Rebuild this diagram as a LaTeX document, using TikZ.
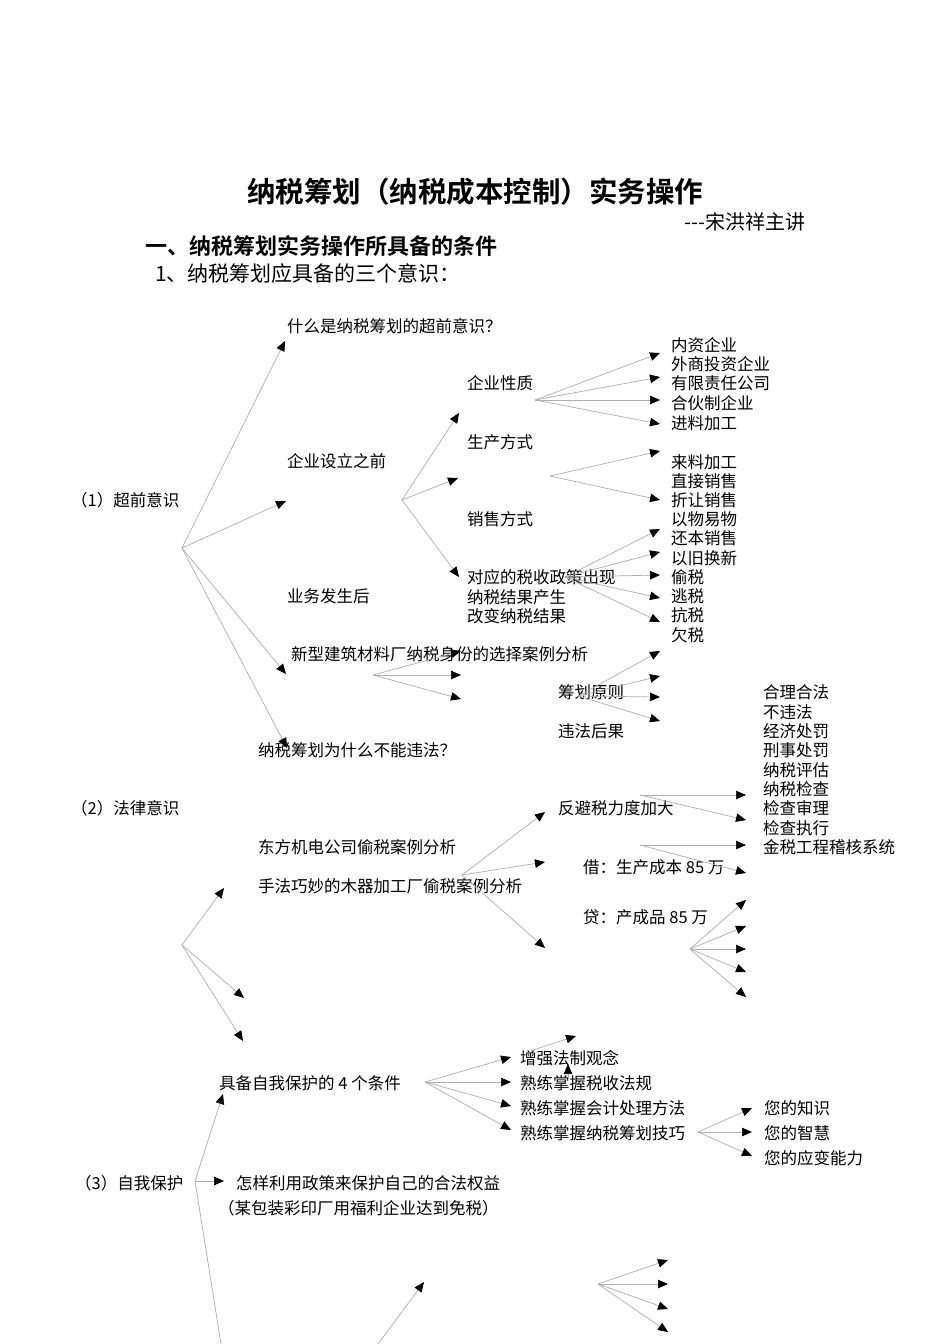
\documentclass[tikz,border=0pt]{standalone}
\usepackage{fontspec}
\usetikzlibrary{arrows.meta}
\newfontfamily\cjk{Noto Sans CJK SC}
\newfontfamily\cjkb{Noto Sans CJK SC Bold}
\definecolor{linegrey}{RGB}{175,175,175}
\newcommand\bodyf{\cjk\fontsize{16.5}{19}\selectfont}
\tikzset{
  lbl/.style={anchor=west, inner sep=0pt, font=\bodyf},
  arr/.style={draw=linegrey, line width=0.7pt, -{Triangle[length=10pt,width=8.5pt,color=black]}},
  ln/.style={draw=linegrey, line width=0.7pt},
}
\begin{document}
\begin{tikzpicture}[x=1pt,y=-1pt]
\useasboundingbox[fill=white] (0,0) rectangle (950,1344);
% headings
\node[inner sep=0pt, font=\cjkb\fontsize{28.5}{30}\selectfont] (title) at (475,192) {纳税筹划（纳税成本控制）实务操作};
\node[anchor=east, inner sep=0pt, font=\cjk\fontsize{20}{22}\selectfont] (author) at (806,222) {---宋洪祥主讲};
\node[anchor=west, inner sep=0pt, font=\cjkb\fontsize{22}{24}\selectfont] (sec) at (145,246) {一、纳税筹划实务操作所具备的条件};
\node[anchor=west, inner sep=0pt, font=\cjk\fontsize{21}{23}\selectfont] (sub) at (155,273) {1、纳税筹划应具备的三个意识：};
% labels
\node[lbl] (a1) at (287,326) {什么是纳税筹划的超前意识？};
\node[lbl] (b1) at (671,345) {内资企业};
\node[lbl] (b2) at (671,364) {外商投资企业};
\node[lbl] (b3) at (671,383) {有限责任公司};
\node[lbl] (b4) at (671,403) {合伙制企业};
\node[lbl] (b5) at (671,423) {进料加工};
\node[lbl] (c1) at (467,383) {企业性质};
\node[lbl] (c2) at (467,442) {生产方式};
\node[lbl] (a2) at (287,461) {企业设立之前};
\node[lbl] (b6) at (671,462) {来料加工};
\node[lbl] (b7) at (671,481) {直接销售};
\node[lbl] (b8) at (671,500) {折让销售};
\node[lbl] (r1) at (71,500) {（1）超前意识};
\node[lbl] (c3) at (467,519) {销售方式};
\node[lbl] (b9) at (671,519) {以物易物};
\node[lbl] (b10) at (671,538) {还本销售};
\node[lbl] (b11) at (671,558) {以旧换新};
\node[lbl] (c4) at (467,577) {对应的税收政策出现};
\node[lbl] (b12) at (671,577) {偷税};
\node[lbl] (c5) at (467,597) {纳税结果产生};
\node[lbl] (b13) at (671,596) {逃税};
\node[lbl] (a3) at (287,596) {业务发生后};
\node[lbl] (c6) at (467,616) {改变纳税结果};
\node[lbl] (b14) at (671,615) {抗税};
\node[lbl] (b15) at (671,635) {欠税};
\node[lbl] (a4) at (291,654) {新型建筑材料厂纳税身份的选择案例分析};
\node[lbl] (d1) at (558,692) {筹划原则};
\node[lbl] (e1) at (763,692) {合理合法};
\node[lbl] (e2) at (763,712) {不违法};
\node[lbl] (d2) at (558,731) {违法后果};
\node[lbl] (e3) at (763,731) {经济处罚};
\node[lbl] (a5) at (258,750) {纳税筹划为什么不能违法？};
\node[lbl] (e4) at (763,750) {刑事处罚};
\node[lbl] (e5) at (763,770) {纳税评估};
\node[lbl] (e6) at (763,789) {纳税检查};
\node[lbl] (r2) at (71,808) {（2）法律意识};
\node[lbl] (d3) at (558,808) {反避税力度加大};
\node[lbl] (e7) at (763,808) {检查审理};
\node[lbl] (e8) at (763,828) {检查执行};
\node[lbl] (f1) at (258,847) {东方机电公司偷税案例分析};
\node[lbl] (e9) at (763,847) {金税工程稽核系统};
\node[lbl] (g1) at (583,867) {借：生产成本 85 万};
\node[lbl] (f2) at (258,886) {手法巧妙的木器加工厂偷税案例分析};
\node[lbl] (g2) at (583,917) {贷：产成品 85 万};
\node[lbl] (h1) at (520,1058) {增强法制观念};
\node[lbl] (i1) at (219,1083) {具备自我保护的 4 个条件};
\node[lbl] (h2) at (520,1083) {熟练掌握税收法规};
\node[lbl] (h3) at (520,1108) {熟练掌握会计处理方法};
\node[lbl] (k1) at (764,1108) {您的知识};
\node[lbl] (h4) at (520,1133) {熟练掌握纳税筹划技巧};
\node[lbl] (k2) at (764,1133) {您的智慧};
\node[lbl] (k3) at (764,1158) {您的应变能力};
\node[lbl] (r3) at (75,1183) {（3）自我保护};
\node[lbl] (i2) at (236,1183) {怎样利用政策来保护自己的合法权益};
\node[lbl] (i3) at (218,1208) {（某包装彩印厂用福利企业达到免税）};
% connector fans
\newcommand\fan[3]{%
  \coordinate (#1) at #2;
  \foreach \tx/\ty [count=\k] in {#3} {
    \coordinate (#1t\k) at (\tx,\ty);
    \draw[arr] (#1) -- (#1t\k);
  }}
\fan{oA}{(182,548)}{285/341, 286/501, 286/674, 287/748}
\fan{oB}{(402,500)}{459/413, 458/478, 459/577}
\fan{oC}{(535,400)}{660/353, 660/377, 660/400, 660/424}
\fan{oD}{(550,476)}{660/451, 660/500}
\fan{oE}{(565,577)}{660/529, 660/552, 660/575, 660/598, 660/622}
\fan{oF}{(373,675)}{461/651, 461/675, 461/699}
\fan{oG}{(578,696)}{660/651, 660/676, 660/697, 660/721}
\fan{oH}{(182,945)}{224/888, 244/998, 243/1041}
\fan{oI}{(462,875)}{545/812, 545/862, 545/948}
\fan{oJ}{(640,795)}{746/795, 746/820}
\fan{oK}{(640,845)}{746/845, 746/873}
\fan{oL}{(690,949)}{746/900, 746/926, 746/949, 746/972, 746/997}
\fan{oM}{(425,1082)}{511/1057, 511/1082, 511/1106, 511/1130}
\fan{oN}{(530,1051)}{576/1036}
\fan{oP}{(568,1079)}{568/1064}
\fan{oQ}{(698,1132)}{752/1108, 752/1132, 752/1156}
\fan{oR}{(195,1181)}{223/1094, 224/1181}
\fan{oS}{(378,1344)}{424/1282}
\fan{oT}{(598,1284)}{668/1260, 668/1284, 668/1309, 668/1332}
\coordinate (oRend) at (221,1344);
\draw[ln] (oR) -- (oRend);
\end{tikzpicture}
\end{document}
